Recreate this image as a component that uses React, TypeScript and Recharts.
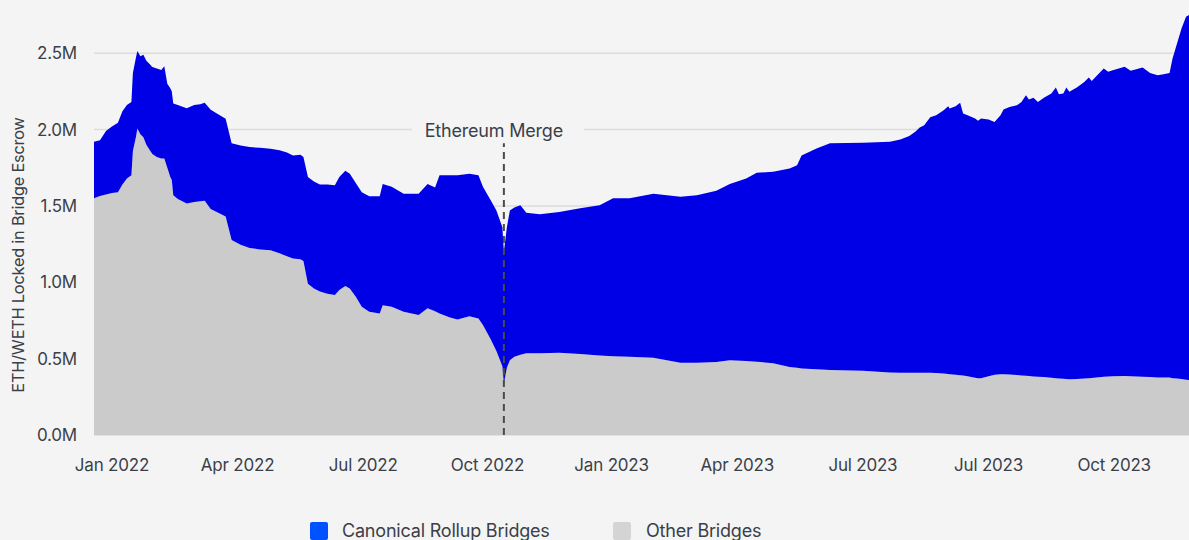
import React from 'react';
import {
  AreaChart,
  Area,
  XAxis,
  YAxis,
  CartesianGrid,
  ReferenceLine,
  ReferenceDot,
  Legend,
} from 'recharts';

// Day offset since the start of the series (mid-Dec 2021)
const dayIndex = [
  0, 4, 8, 12, 16, 19, 22, 25, 26, 28,
  29, 31, 33, 35, 37, 39, 42, 45, 47, 49,
  51, 52, 53, 56, 62, 67, 71, 74, 78, 83,
  88, 92, 98, 104, 111, 118, 124, 129, 133, 138,
  140, 143, 147, 151, 156, 161, 164, 168, 171, 175,
  179, 184, 191, 193, 199, 207, 217, 223, 228, 231,
  238, 243, 251, 257, 260, 265, 269, 273, 274, 276,
  278, 281, 285, 289, 298, 311, 325, 338, 347, 358,
  374, 392, 403, 416, 425, 436, 443, 454, 465, 470,
  473, 483, 492, 514, 532,
  539, 545, 549, 552, 555, 559, 563, 568, 571, 572,
  576, 579, 581, 584, 589, 591, 593, 598, 602, 606,
  608, 612, 617, 620, 623, 625, 628, 631, 635, 640,
  643, 645, 648, 650, 652, 657, 662, 665, 667, 670,
  675, 678, 681, 689, 693, 701, 706, 711, 715, 719,
  721, 724, 727, 730, 732,
];

// Other Bridges, ETH (millions)
const otherBridges = [
  1.55, 1.565, 1.575, 1.585, 1.59, 1.64, 1.68, 1.7, 1.86, 1.95,
  2.007, 1.97, 1.95, 1.9, 1.87, 1.84, 1.82, 1.81, 1.81, 1.75,
  1.69, 1.67, 1.57, 1.545, 1.516, 1.525, 1.53, 1.533, 1.48, 1.455,
  1.43, 1.276, 1.245, 1.225, 1.215, 1.21, 1.19, 1.17, 1.156, 1.15,
  1.14, 0.99, 0.96, 0.94, 0.925, 0.916, 0.95, 0.975, 0.96, 0.905,
  0.84, 0.807, 0.796, 0.85, 0.84, 0.807, 0.785, 0.83, 0.81, 0.796,
  0.77, 0.757, 0.778, 0.763, 0.72, 0.63, 0.55, 0.45, 0.338, 0.44,
  0.49, 0.512, 0.525, 0.535, 0.535, 0.539, 0.53, 0.52, 0.515, 0.512,
  0.505, 0.473, 0.473, 0.478, 0.49, 0.485, 0.48, 0.47, 0.445, 0.44,
  0.436, 0.43, 0.425, 0.42, 0.41,
  0.408, 0.408, 0.408, 0.408, 0.408, 0.408, 0.406, 0.403, 0.4, 0.398,
  0.395, 0.392, 0.39, 0.385, 0.375, 0.371, 0.372, 0.385, 0.395, 0.398,
  0.398, 0.396, 0.393, 0.39, 0.388, 0.386, 0.383, 0.381, 0.379, 0.375,
  0.372, 0.37, 0.368, 0.366, 0.365, 0.366, 0.37, 0.372, 0.374, 0.377,
  0.381, 0.383, 0.385, 0.386, 0.385, 0.382, 0.379, 0.377, 0.377, 0.376,
  0.372, 0.37, 0.366, 0.362, 0.36,
];

// Canonical Rollup Bridges, ETH (millions)
const canonicalBridges = [
  0.37, 0.365, 0.415, 0.435, 0.455, 0.48, 0.48, 0.48, 0.51, 0.52,
  0.508, 0.51, 0.54, 0.55, 0.56, 0.57, 0.58, 0.58, 0.605, 0.55,
  0.58, 0.58, 0.6, 0.615, 0.624, 0.635, 0.635, 0.642, 0.65, 0.645,
  0.64, 0.634, 0.65, 0.66, 0.665, 0.665, 0.675, 0.68, 0.674, 0.685,
  0.68, 0.7, 0.7, 0.7, 0.715, 0.72, 0.74, 0.755, 0.75, 0.745,
  0.75, 0.757, 0.768, 0.793, 0.785, 0.773, 0.795, 0.813, 0.81, 0.904,
  0.93, 0.943, 0.932, 0.937, 0.905, 0.91, 0.92, 0.91, 0.862, 0.92,
  0.98, 0.978, 0.98, 0.92, 0.911, 0.921, 0.954, 0.985, 1.035, 1.038,
  1.075, 1.087, 1.097, 1.122, 1.153, 1.195, 1.237, 1.253, 1.3, 1.327,
  1.394, 1.446, 1.485, 1.493, 1.51,
  1.527, 1.549, 1.577, 1.605, 1.62, 1.672, 1.688, 1.724, 1.753, 1.74,
  1.758, 1.783, 1.715, 1.709, 1.697, 1.686, 1.7, 1.681, 1.655, 1.696,
  1.733, 1.752, 1.766, 1.791, 1.837, 1.81, 1.826, 1.8, 1.83, 1.861,
  1.903, 1.861, 1.868, 1.909, 1.882, 1.909, 1.942, 1.968, 1.944, 1.972,
  2.019, 1.995, 2.004, 2.025, 2.0, 2.025, 1.992, 1.979, 1.985, 1.995,
  2.093, 2.193, 2.295, 2.376, 2.39,
];

const xTickDays = [12, 96, 180, 263, 346, 430, 514, 598, 682];
const xTickLabels = [
  'Jan 2022', 'Apr 2022', 'Jul 2022', 'Oct 2022', 'Jan 2023',
  'Apr 2023', 'Jul 2023', 'Jul 2023', 'Oct 2023',
];
const yTicks = [0, 0.5, 1.0, 1.5, 2.0, 2.5];

const mergeDay = 274;
const mergeLabel = 'Ethereum Merge';
const seriesNames = ['Canonical Rollup Bridges', 'Other Bridges'];

const data = dayIndex.map((d, i) => ({
  day: d,
  other: otherBridges[i],
  canonical: canonicalBridges[i],
}));

const FONT = 'Inter, "Noto Sans", sans-serif';
const TEXT = '#3b3f48';
const BG = '#f4f4f4';
const AREA_BLUE = '#0000e6';
const AREA_GRAY = '#cbcbcb';
const LEG_BLUE = '#0052ff';
const LEG_GRAY = '#d4d4d4';

const renderLegend = () => (
  <div style={{ position: 'relative', height: 24, fontFamily: FONT, fontSize: 18, color: TEXT }}>
    <div style={{ position: 'absolute', left: 302, top: 4, width: 18, height: 18, background: LEG_BLUE, borderRadius: 2 }} />
    <span style={{ position: 'absolute', left: 334, top: 1, lineHeight: '24px', whiteSpace: 'nowrap', letterSpacing: -0.2 }}>{seriesNames[0]}</span>
    <div style={{ position: 'absolute', left: 605, top: 4, width: 18, height: 18, background: LEG_GRAY, borderRadius: 2 }} />
    <span style={{ position: 'absolute', left: 638, top: 1, lineHeight: '24px', whiteSpace: 'nowrap', letterSpacing: -0.2 }}>{seriesNames[1]}</span>
  </div>
);

const MergeLabelShape = (props: any) => {
  const { cx, cy } = props;
  return (
    <g>
      <rect x={cx - 92} y={cy - 12} width={172} height={24} fill={BG} />
      <text x={cx - 10} y={cy + 1} textAnchor="middle" dominantBaseline="central" fontFamily={FONT} fontSize={18} fill={TEXT} letterSpacing={-0.2}>
        {mergeLabel}
      </text>
    </g>
  );
};

export default function App() {
  return (
    <div
      style={{
        width: 1189,
        height: 540,
        paddingLeft: 8,
        paddingTop: 8,
        boxSizing: 'border-box',
        overflow: 'hidden',
        background: BG,
      }}
    >
      <style>{`html,body{margin:0;padding:0;overflow:hidden;background:${BG};}`}</style>
      <AreaChart
        width={1181}
        height={540}
        data={data}
        margin={{ top: 7, right: 0, bottom: 6, left: 0 }}
      >
        <CartesianGrid
          horizontal
          vertical={false}
          horizontalValues={yTicks}
          stroke="#dcdcdc"
          strokeWidth={1.5}
        />
        <XAxis
          dataKey="day"
          type="number"
          domain={[0, 732]}
          ticks={xTickDays}
          interval={0}
          tickFormatter={(v: number) => xTickLabels[xTickDays.indexOf(v)]}
          axisLine={false}
          tickLine={false}
          tickMargin={18}
          height={83}
          tick={{ fill: TEXT, fontSize: 17, fontFamily: FONT, letterSpacing: -0.2 }}
        />
        <YAxis
          type="number"
          domain={[0, 2.75]}
          ticks={yTicks}
          interval={0}
          allowDataOverflow
          tickFormatter={(v: number) => `${v.toFixed(1)}M`}
          axisLine={false}
          tickLine={false}
          tickMargin={11}
          width={86}
          tick={{ fill: TEXT, fontSize: 17, fontFamily: FONT, letterSpacing: -0.2 }}
          label={() => (
            <text
              x={10}
              y={247}
              transform="rotate(-90, 10, 247)"
              textAnchor="middle"
              dominantBaseline="central"
              fontFamily={FONT}
              fontSize={16.3}
              fill={TEXT}
              letterSpacing={-0.2}
            >
              ETH/WETH Locked in Bridge Escrow
            </text>
          )}
        />
        <Area
          type="linear"
          dataKey="other"
          name={seriesNames[1]}
          stackId="1"
          stroke="none"
          fill={AREA_GRAY}
          fillOpacity={1}
          isAnimationActive={false}
        />
        <Area
          type="linear"
          dataKey="canonical"
          name={seriesNames[0]}
          stackId="1"
          stroke="none"
          fill={AREA_BLUE}
          fillOpacity={1}
          isAnimationActive={false}
        />
        <ReferenceLine
          segment={[{ x: mergeDay, y: 0 }, { x: mergeDay, y: 1.91 }]}
          stroke="#4a4a4a"
          strokeWidth={2}
          strokeDasharray="7 5"
        />
        <ReferenceDot x={mergeDay} y={2.0} r={0} shape={MergeLabelShape} />
        <Legend verticalAlign="bottom" content={renderLegend} wrapperStyle={{ left: 0, width: 1181 }} />
      </AreaChart>
    </div>
  );
}
